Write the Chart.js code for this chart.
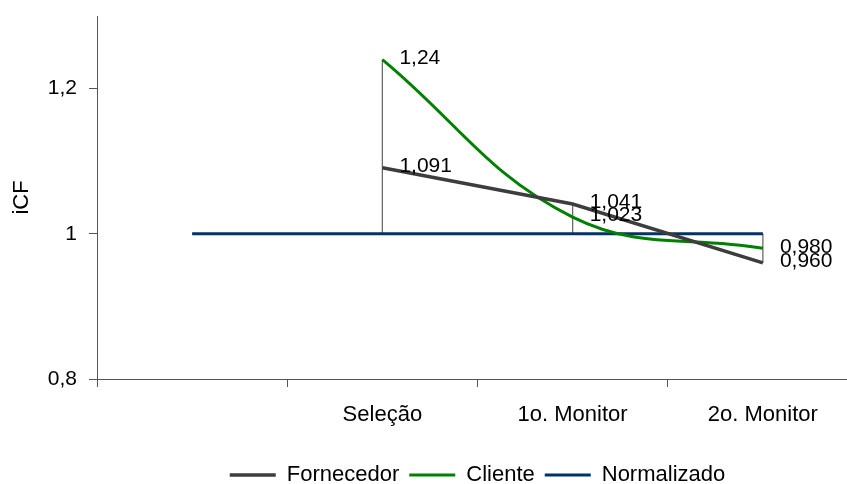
<!DOCTYPE html>
<html>
<head>
<meta charset="utf-8">
<script src="https://cdn.jsdelivr.net/npm/chart.js@4/dist/chart.umd.min.js"></script>
<style>
html, body { margin: 0; padding: 0; background: #fff; overflow: hidden; }
#wrap { width: 847px; height: 484px; overflow: hidden; position: relative; }
canvas { display: block; }
</style>
</head>
<body>
<div id="wrap"><canvas id="c" width="860" height="484"></canvas></div>
<script>
// ---- data ----
const categories = ['', 'Seleção', '1o. Monitor', '2o. Monitor'];
const seriesNames = ['Fornecedor', 'Cliente', 'Normalizado'];
const fornecedor = [null, 1.091, 1.041, 0.960];
const cliente = [null, 1.24, 1.023, 0.980];
const normalizado = [1, 1, 1, 1];
const fornecedorLabels = [null, '1,091', '1,041', '0,960'];
const clienteLabels = [null, '1,24', '1,023', '0,980'];
const yTicks = [0.8, 1.0, 1.2];
const yTickLabels = ['0,8', '1', '1,2'];
const yTitle = 'iCF';

// ---- styles ----
const FONT = 'Liberation Sans, Arial, sans-serif';
const axisColor = '#555555';

const highLowPlugin = {
  id: 'highLow',
  beforeDatasetsDraw(chart) {
    const ctx = chart.ctx, xs = chart.scales.x, ys = chart.scales.y;
    const n = chart.data.labels.length;
    ctx.save();
    ctx.strokeStyle = '#6a6a6a';
    ctx.lineWidth = 1.3;
    for (let i = 0; i < n; i++) {
      const vals = chart.data.datasets.map(d => d.data[i]).filter(v => v !== null && v !== undefined);
      if (vals.length < 2) continue;
      const hi = Math.max(...vals), lo = Math.min(...vals);
      if (hi === lo) continue;
      const x = xs.getPixelForValue(i);
      ctx.beginPath();
      ctx.moveTo(x, ys.getPixelForValue(hi));
      ctx.lineTo(x, ys.getPixelForValue(lo));
      ctx.stroke();
    }
    ctx.restore();
  }
};

const pointLabelPlugin = {
  id: 'pointLabels',
  afterDatasetsDraw(chart) {
    const ctx = chart.ctx;
    ctx.save();
    ctx.font = '21px ' + FONT;
    ctx.fillStyle = '#000';
    ctx.textAlign = 'left';
    ctx.textBaseline = 'middle';
    chart.data.datasets.forEach((ds, di) => {
      if (!ds.pointLabels) return;
      const meta = chart.getDatasetMeta(di);
      meta.data.forEach((pt, i) => {
        const txt = ds.pointLabels[i];
        if (!txt || ds.data[i] === null) return;
        ctx.fillText(txt, pt.x + 17, pt.y - 1.5);
      });
    });
    ctx.restore();
  }
};

new Chart(document.getElementById('c'), {
  type: 'line',
  data: {
    labels: categories,
    datasets: [
      { label: seriesNames[0], data: fornecedor, pointLabels: fornecedorLabels,
        borderColor: '#3d3d3d', backgroundColor: '#3d3d3d', borderWidth: 3.5,
        pointRadius: 0, tension: 0, fill: false },
      { label: seriesNames[1], data: cliente, pointLabels: clienteLabels,
        borderColor: '#008000', backgroundColor: '#008000', borderWidth: 3,
        pointRadius: 0, tension: 0.4, fill: false },
      { label: seriesNames[2], data: normalizado,
        borderColor: '#003366', backgroundColor: '#003366', borderWidth: 3,
        pointRadius: 0, tension: 0, fill: false }
    ]
  },
  options: {
    responsive: false,
    animation: false,
    layout: { padding: { top: 16, right: 2, left: 0, bottom: -12 } },
    plugins: {
      tooltip: { enabled: false },
      legend: {
        position: 'bottom',
        fullSize: false,
        labels: {
          usePointStyle: true,
          pointStyle: 'line',
          pointStyleWidth: 46,
          padding: 10,
          color: '#000',
          font: { size: 22, family: FONT }
        }
      }
    },
    scales: {
      x: {
        type: 'category',
        offset: true,
        afterFit: s => { s.height = 75; s.paddingLeft = 0; s.paddingRight = 0; },
        ticks: { color: '#000', font: { size: 22, family: FONT }, padding: 15, maxRotation: 0, autoSkip: false },
        grid: { offset: true, drawOnChartArea: false, drawTicks: true, tickLength: 8, color: axisColor },
        border: { display: true, color: axisColor, width: 1 }
      },
      y: {
        min: 0.8,
        max: 1.3,
        afterBuildTicks: s => { s.ticks = yTicks.map(v => ({ value: v })); },
        afterFit: s => { s.width = 97; s.paddingTop = 0; s.paddingBottom = 0; },
        ticks: {
          color: '#000', font: { size: 21, family: FONT }, padding: 12,
          callback: (v, i) => yTickLabels[i]
        },
        grid: { drawOnChartArea: false, drawTicks: true, tickLength: 8, color: axisColor },
        border: { display: true, color: axisColor, width: 1 },
        title: { display: true, text: yTitle, color: '#000', font: { size: 22, family: FONT }, padding: { top: 9, bottom: 0 } }
      }
    }
  },
  plugins: [highLowPlugin, pointLabelPlugin]
});
</script>
</body>
</html>
